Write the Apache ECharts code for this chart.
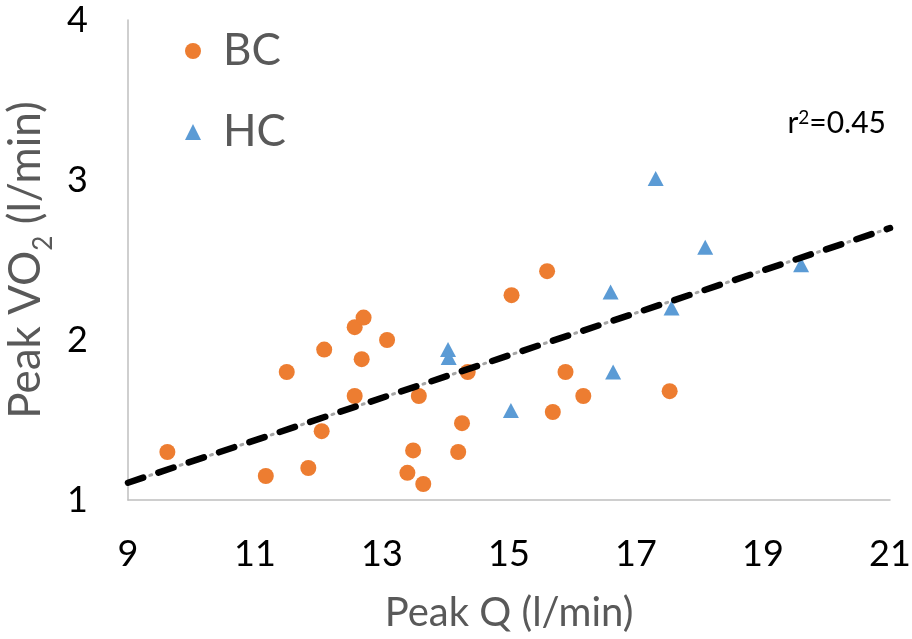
<!DOCTYPE html>
<html>
<head>
<meta charset="utf-8">
<script src="https://cdn.jsdelivr.net/npm/echarts@6/dist/echarts.min.js"></script>
<style>html,body{margin:0;padding:0;background:#fff}#c{width:912px;height:639px}</style>
</head>
<body>
<div id="c"></div>
<script>
// BC group: Peak Q (l/min), Peak VO2 (l/min)
const bcQ   = [9.62, 11.17, 11.50, 11.84, 12.05, 12.09, 12.57, 12.71, 12.68, 12.57, 13.08, 13.49, 13.40, 13.65, 13.58, 14.35, 14.26, 14.20, 15.04, 15.60, 15.69, 15.89, 16.17, 17.53];
const bcVO2 = [1.30, 1.15, 1.80, 1.20, 1.43, 1.94, 2.08, 2.14, 1.88, 1.65, 2.00, 1.31, 1.17, 1.10, 1.65, 1.80, 1.48, 1.30, 2.28, 2.43, 1.55, 1.80, 1.65, 1.68];
// HC group
const hcQ   = [14.04, 14.05, 15.03, 16.60, 16.64, 17.31, 17.56, 18.09, 19.60];
const hcVO2 = [1.94, 1.89, 1.56, 2.30, 1.80, 3.01, 2.20, 2.58, 2.47];
// Trend line end points
const trendQ   = [9, 21];
const trendVO2 = [1.108, 2.70];
const xTicks = [9, 11, 13, 15, 17, 19, 21];
const yTicks = [1, 2, 3, 4];
const r2Text = '0.45';

const zip = (a, b) => a.map((v, i) => [v, b[i]]);
const FONT = 'Lato';

const chart = echarts.init(document.getElementById('c'), null, {renderer: 'canvas'});
chart.setOption({
  animation: false,
  backgroundColor: '#ffffff',
  grid: {left: 128, right: 22, top: 20, bottom: 139, containLabel: false, outerBoundsMode: 'none'},
  legend: {
    data: ['BC', 'HC'],
    orient: 'vertical',
    left: 185,
    top: 26,
    padding: 0,
    itemWidth: 16,
    itemHeight: 16,
    itemGap: 31,
    selectedMode: false,
    textStyle: {fontFamily: FONT, fontSize: 44, color: '#595959', lineHeight: 50, padding: [0, 0, 0, 17]}
  },
  xAxis: {
    type: 'value',
    min: xTicks[0], max: xTicks[xTicks.length - 1], interval: 2,
    name: 'Peak Q (l/min)',
    nameLocation: 'middle',
    nameGap: 93,
    nameTextStyle: {fontFamily: FONT, fontSize: 40, color: '#595959'},
    axisLine: {show: true, lineStyle: {color: '#bfbfbf', width: 1.5}},
    axisTick: {show: false},
    splitLine: {show: false},
    axisLabel: {fontFamily: FONT, fontSize: 36, color: '#000', margin: 36}
  },
  yAxis: {
    type: 'value',
    min: yTicks[0], max: yTicks[yTicks.length - 1], interval: 1,
    name: 'Peak VO{sub|2} (l/min)',
    nameLocation: 'middle',
    nameGap: 71,
    nameTextStyle: {
      fontFamily: FONT, fontSize: 44, color: '#595959', lineHeight: 60,
      rich: {sub: {fontFamily: FONT, fontSize: 26, color: '#595959', lineHeight: 26, verticalAlign: 'bottom'}}
    },
    axisLine: {show: true, lineStyle: {color: '#bfbfbf', width: 1.5}},
    axisTick: {show: false},
    splitLine: {show: false},
    axisLabel: {fontFamily: FONT, fontSize: 36, color: '#000', margin: 40}
  },
  graphic: [{
    type: 'text',
    right: 26,
    top: 108,
    style: {
      text: 'r{sup|2}=' + r2Text,
      font: '30px Lato',
      fill: '#000',
      rich: {sup: {fontFamily: FONT, fontSize: 19, fill: '#000', verticalAlign: 'top', lineHeight: 30}}
    }
  }],
  series: [
    {
      name: 'trend-dots', type: 'line', data: zip(trendQ, trendVO2), showSymbol: false, silent: true, z: 1,
      lineStyle: {color: '#a6a6a6', width: 3, type: [2, 30], dashOffset: 9, cap: 'round'}
    },
    {
      name: 'trend', type: 'line', data: zip(trendQ, trendVO2), showSymbol: false, silent: true, z: 3,
      lineStyle: {color: '#000', width: 6.5, type: [16, 16], cap: 'round'}
    },
    {
      name: 'BC', type: 'scatter', data: zip(bcQ, bcVO2), symbol: 'circle', symbolSize: 16, z: 2,
      itemStyle: {color: '#ED7D31', opacity: 1}
    },
    {
      name: 'HC', type: 'scatter', data: zip(hcQ, hcVO2), symbol: 'triangle', symbolSize: [16, 15], z: 2,
      itemStyle: {color: '#5B9BD5', opacity: 1}
    }
  ]
});
</script>
</body>
</html>
